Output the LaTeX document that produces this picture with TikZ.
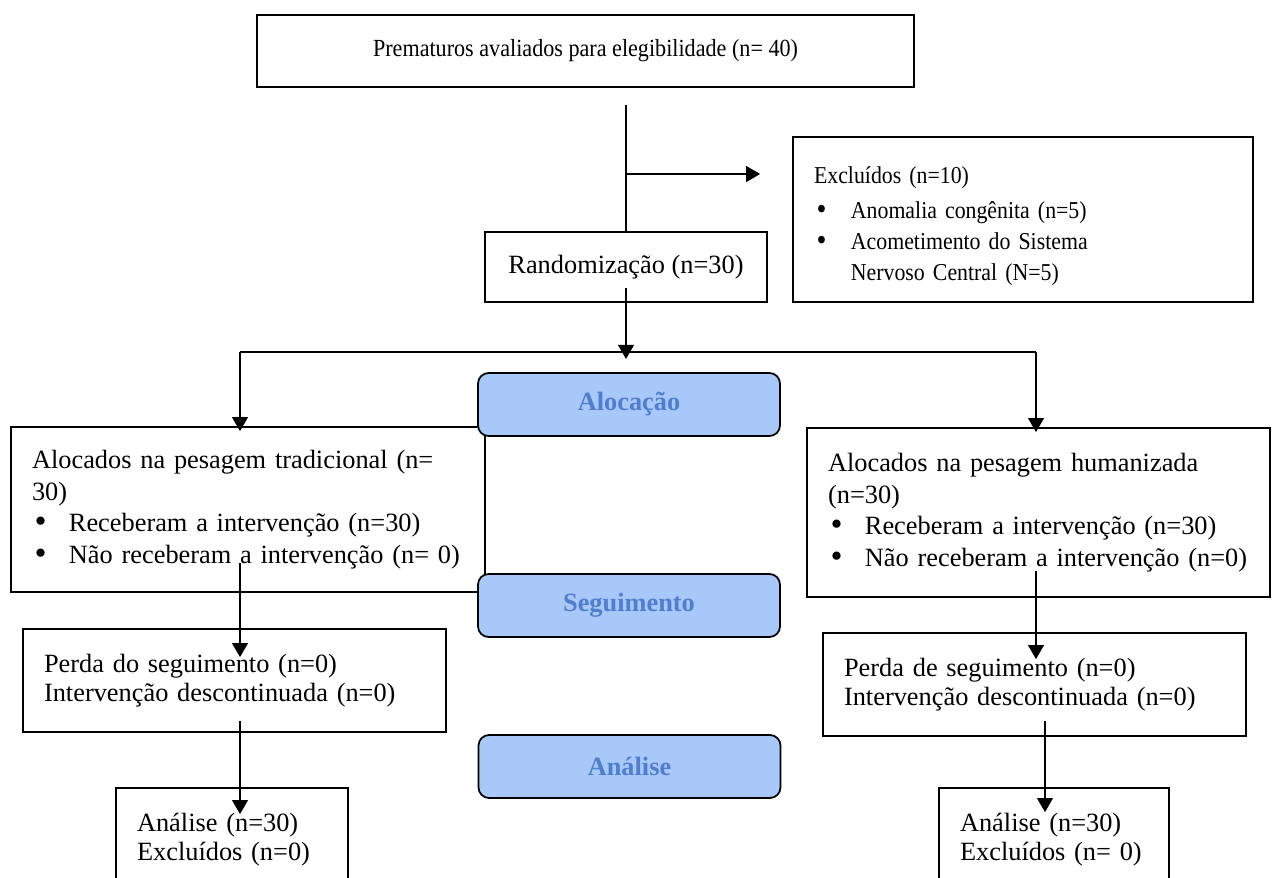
\documentclass[tikz,border=0pt]{standalone}
\usepackage{fontspec}
\setmainfont{Liberation Serif}
\newfontfamily\estreita[FakeStretch=0.9]{Liberation Serif}
\usetikzlibrary{arrows.meta,calc}

\definecolor{fasefill}{RGB}{168,200,250}
\definecolor{fasetext}{RGB}{80,125,205}
\newcommand{\pbul}{\makebox[21pt][l]{\hspace{1.5pt}\raisebox{-0.5pt}{\scalebox{1.3}{\textbullet}}}}

\begin{document}
\begin{tikzpicture}[x=0.02cm,y=-0.02cm,
  box/.style={draw,line width=1pt,inner xsep=0.42cm,inner ysep=0pt,align=left,font=\fontsize{15}{16.5}\selectfont},
  lista/.style={box,font=\fontsize{15}{18}\selectfont},
  fase/.style={draw,line width=1pt,rounded corners=6pt,fill=fasefill,text=fasetext,font=\fontsize{15}{16.5}\selectfont\bfseries,minimum width=6.04cm,minimum height=1.26cm},
  arr/.style={line width=1pt,-{Triangle[width=9pt,length=8pt]}}]
\useasboundingbox (0,0) rectangle (1272,878);

% caixas do fluxo
\node[box,align=center,minimum width=13.14cm,minimum height=1.44cm,font=\fontsize{14}{16}\selectfont\estreita] (elig) at (585.5,51) {Prematuros avaliados para elegibilidade (n= 40)};
\node[box,text width=8.36cm,minimum height=3.3cm,font=\fontsize{13.8}{17.6}\selectfont\estreita] (excl) at (1023,219.5) {\rule{0pt}{17.5pt}Excluídos (n=10)\\[2.3pt]
  \pbul Anomalia congênita (n=5)\\
  \pbul Acometimento do Sistema\\
  \hspace*{21pt}Nervoso Central (N=5)};
\node[box,align=center,minimum width=5.64cm,minimum height=1.4cm] (rand) at (626,267) {Randomização (n=30)};

\node[lista,text width=8.64cm,minimum height=3.3cm] (tradA) at (248,509.5) {Alocados na pesagem tradicional (n=\\
  30)\\
  \pbul Receberam a intervenção (n=30)\\
  \pbul Não receberam a intervenção (n= 0)};
\node[lista,text width=8.42cm,minimum height=3.38cm] (humA) at (1038.5,512.5) {Alocados na pesagem humanizada\\
  (n=30)\\
  \pbul Receberam a intervenção (n=30)\\
  \pbul Não receberam a intervenção (n=0)};

\node[box,text width=7.62cm,minimum height=2.06cm] (perdaL) at (234.5,680.5) {Perda do seguimento (n=0)\\Intervenção descontinuada (n=0)};
\node[box,text width=7.62cm,minimum height=2.06cm] (perdaR) at (1034.5,684.5) {Perda de seguimento (n=0)\\Intervenção descontinuada (n=0)};

\node[box,text width=3.8cm,minimum height=2.08cm] (analL) at (232,840) {Análise (n=30)\\Excluídos (n=0)};
\node[box,text width=3.76cm,minimum height=2.08cm] (analR) at (1054,840) {Análise (n=30)\\Excluídos (n= 0)};

% fases
\node[fase] (aloc) at (629,404.5) {Alocação};
\node[fase] (segui) at (629,605.5) {Seguimento};
\node[fase] (anali) at (629.5,766.5) {Análise};

% ligacoes
\coordinate (cTop) at (626,105);
\coordinate (cExc) at (626,174);
\coordinate (cSplit) at (626,352);
\coordinate (cL) at (240,352);
\coordinate (cR) at (1036,352);

\draw[line width=1pt] (cTop) -- (rand.north);
\draw[arr] (cExc) -- ([xshift=-0.64cm]excl.west |- cExc);
\draw[arr] ([yshift=0.3cm]rand.south) -- ([yshift=-0.14cm]cSplit);
\draw[line width=1pt] (cL) -- (cR);
\draw[line width=1.6pt] ([xshift=-0.62cm]cSplit) -- ([xshift=1.1cm]cSplit);
\draw[arr] (cL) -- ([yshift=-0.1cm]cL |- tradA.north);
\draw[arr] (cR) -- ([yshift=-0.1cm]cR |- humA.north);

\draw[arr] ([yshift=0.6cm]tradA.south -| cL) -- ([yshift=-0.58cm]perdaL.north -| cL);
\draw[arr] ([yshift=0.24cm]perdaL.south -| cL) -- ([yshift=-0.54cm]analL.north -| cL);
\draw[arr] ([yshift=0.54cm]humA.south -| cR) -- ([yshift=-0.54cm]perdaR.north -| cR);
\draw[arr] ([xshift=0.18cm,yshift=0.32cm]perdaR.south -| cR) -- ([xshift=0.18cm,yshift=-0.5cm]analR.north -| cR);
\end{tikzpicture}
\end{document}
